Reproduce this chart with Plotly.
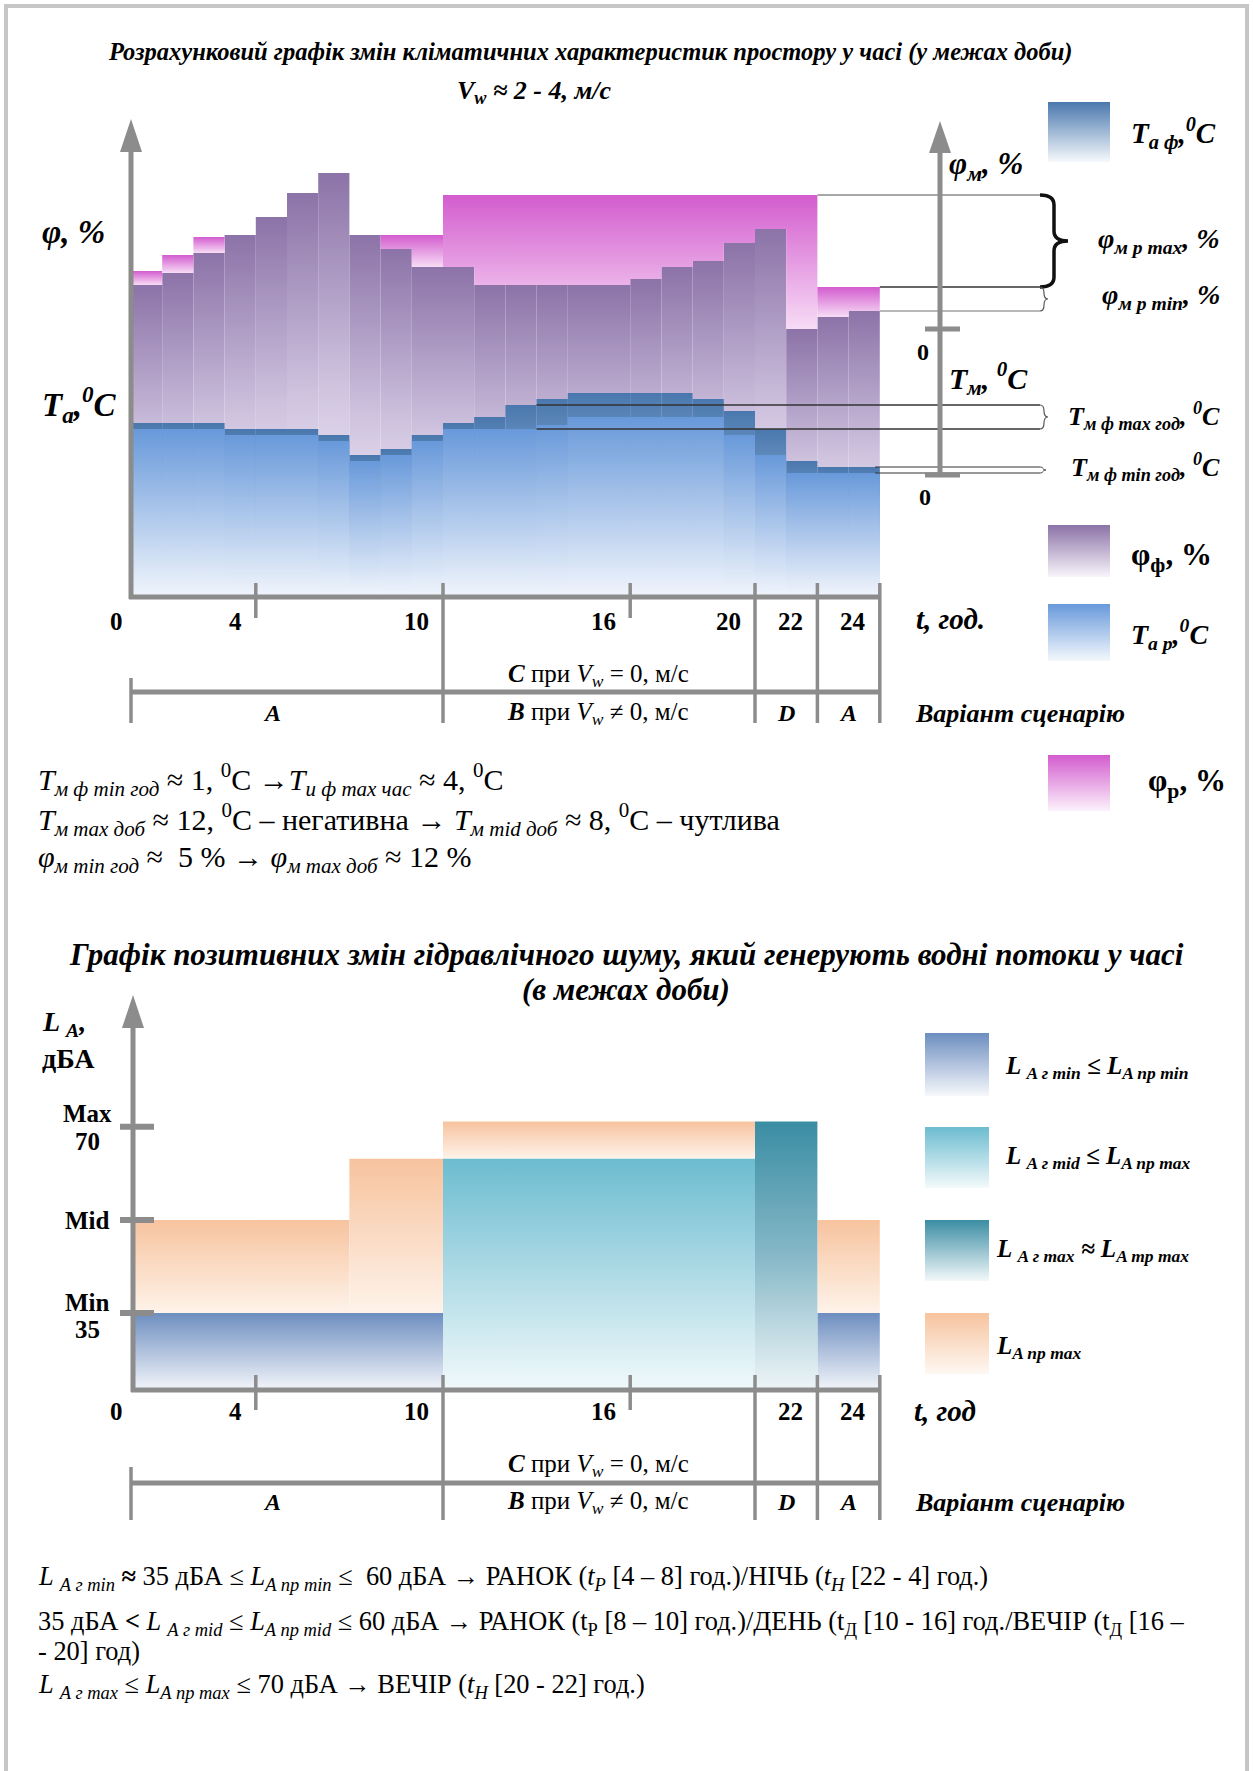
import plotly.graph_objects as go

W, H = 1253, 1771
SERIF = "Liberation Serif, Times New Roman, serif"
AX = "#8c8c8c"

# ---------------- DATA : top chart (relative level units) ----------------
hours = list(range(24))
phi_f = [78, 81, 86, 90.5, 95, 101, 106, 90.5, 87, 82.5, 82.5, 78, 78, 78, 78, 78,
         79.5, 82.5, 84, 88.5, 92, 67, 70, 71.5]
phi_r = [81.5, 85.5, 90, 90.5, 95, 101, 106, 90.5, 90.5, 90.5, 100.5, 100.5, 100.5,
         100.5, 100.5, 100.5, 100.5, 100.5, 100.5, 100.5, 100.5, 100.5, 77.5, 77.5]
T_af = [43.5, 43.5, 43.5, 42, 42, 42, 40.5, 35.5, 37, 40.5, 43.5, 45, 48, 49.5,
        51, 51, 51, 51, 49.5, 46.5, 42, 34, 32.5, 32.5]
T_ar = [42, 42, 42, 40.5, 40.5, 40.5, 39, 34, 35.5, 39, 42, 42, 42, 43,
        45, 45, 45, 45, 45, 40.5, 35.5, 31, 31, 31]
T_m_max_levels = [48, 42]          # T_м ф max год guide levels
T_m_max_from = 13                  # hour where these guides start
top_ticks = [0, 4, 10, 16, 20, 22, 24]
top_tick_labels = ["0", "4", "10", "16", "20", "22", "24"]

# ---------------- DATA : bottom chart (dBA) ----------------
L_np_max = [52.5, 52.5, 52.5, 52.5, 52.5, 52.5, 52.5, 64, 64, 64, 71, 71, 71, 71,
            71, 71, 71, 71, 71, 71, 71, 71, 52.5, 52.5]
L_g_min = [35, 35, 35, 35, 35, 35, 35, 35, 35, 35, None, None, None, None, None,
           None, None, None, None, None, None, None, 35, 35]
L_g_mid = [None, None, None, None, None, None, None, None, None, None, 64, 64, 64,
           64, 64, 64, 64, 64, 64, 64, None, None, None, None]
L_g_max = [None, None, None, None, None, None, None, None, None, None, None, None,
           None, None, None, None, None, None, None, None, 71, 71, None, None]
L_levels = [35, 52.5, 70]
bot_ticks = [0, 4, 10, 16, 20, 22, 24]
bot_label_ticks = [0, 4, 10, 16, 22, 24]
bot_tick_labels = ["0", "4", "10", "16", "22", "24"]

# ---------------- scales (pixel mapping) ----------------
X0, KX = 131.0, 31.2          # px of hour 0, px per hour
Y0T, KT = 597.0, 4.0          # top chart baseline px, px per unit
Y35, KB = 1313.0, 5.32        # bottom chart px of 35 dBA, px per dB
YB = 1390.0                   # bottom chart baseline px
L0 = 35 - (YB - Y35) / KB     # bottom chart baseline value


def hx(p):
    return (p - X0) / KX


def tx(h):
    return X0 + KX * h


def vy(p):
    return (Y0T - p) / KT


def dbv(p):
    return 35 + (Y35 - p) / KB


def px(x):
    return x / W


def py(y):
    return 1 - y / H


fig = go.Figure()


def grad_poly(xs, ys, cs, yaxis="y", start=None, stop=None):
    fg = dict(type="vertical", colorscale=cs)
    if start is not None:
        fg["start"] = start
        fg["stop"] = stop
    fig.add_trace(go.Scatter(x=xs, y=ys, mode="lines",
                             line=dict(width=0, color="rgba(0,0,0,0)"),
                             fill="toself", fillgradient=fg, hoverinfo="skip",
                             showlegend=False, yaxis=yaxis))


def step_poly(i0, i1, tops, bots):
    xs, ys = [], []
    for i in range(i0, i1):
        xs += [i, i + 1]
        ys += [tops[i], tops[i]]
    for i in range(i1 - 1, i0 - 1, -1):
        xs += [i + 1, i]
        ys += [bots[i], bots[i]]
    xs.append(xs[0])
    ys.append(ys[0])
    return xs, ys


def groups(mask, tops):
    res, i = [], 0
    while i < len(mask):
        if mask[i]:
            j = i
            while j + 1 < len(mask) and mask[j + 1] and tops[j + 1] == tops[i]:
                j += 1
            res.append((i, j + 1))
            i = j + 1
        else:
            i += 1
    return res


# colour scales
CS_PURPLE = [[0, "#ffffff"], [0.5, "#cfc3df"], [1, "#8c73a8"]]
CS_PINK = [[0, "#f7dcf5"], [1, "#d35ccf"]]
CS_DBLUE = [[0, "#f3f7fc"], [0.6, "#7ea3cf"], [1, "#4a78ae"]]
CS_LBLUE = [[0, "#f1f5fc"], [1, "#6899da"]]
CS_ORANGE = [[0, "#fef3ea"], [1, "#f7c39e"]]
CS_GMIN = [[0, "#f3f5fa"], [1, "#6d8ec0"]]
CS_GMID = [[0, "#f1f9fb"], [1, "#6cbcd0"]]
CS_GMAX = [[0, "#eef5f7"], [0.5, "#86b8c8"], [1, "#3a8da3"]]

zeros = [0] * 24
# ---- top chart bars ----
for i in hours:
    xs, ys = step_poly(i, i + 1, phi_f, zeros)
    grad_poly(xs, ys, CS_PURPLE)
for a, b in groups([phi_r[i] > phi_f[i] for i in hours], phi_r):
    xs, ys = step_poly(a, b, phi_r, phi_f)
    grad_poly(xs, ys, CS_PINK)
for i in hours:
    xs, ys = step_poly(i, i + 1, T_af, zeros)
    grad_poly(xs, ys, CS_DBLUE)
for i in hours:
    xs, ys = step_poly(i, i + 1, T_ar, zeros)
    grad_poly(xs, ys, CS_LBLUE)

# ---- bottom chart bars ----
under = []
for i in hours:
    vals = [v[i] for v in (L_g_min, L_g_mid, L_g_max) if v[i] is not None]
    under.append(max(vals) if vals else L0)
for a, b in groups([True] * 24, L_np_max):
    xs, ys = step_poly(a, b, L_np_max, under)
    grad_poly(xs, ys, CS_ORANGE, "y2")
base = [L0] * 24
for series, cs in ((L_g_min, CS_GMIN), (L_g_mid, CS_GMID), (L_g_max, CS_GMAX)):
    for a, b in groups([v is not None for v in series], series):
        xs, ys = step_poly(a, b, series, base)
        grad_poly(xs, ys, cs, "y2")


# ---- legend swatches (px boxes) ----
def swatch(x0, y0, x1, y1, cs):
    xs = [hx(x0), hx(x1), hx(x1), hx(x0), hx(x0)]
    ys = [vy(y1), vy(y1), vy(y0), vy(y0), vy(y1)]
    grad_poly(xs, ys, cs)


swatch(1048, 102, 1110, 162, [[0, "#f6f9fc"], [1, "#4a78ae"]])
swatch(1048, 525, 1110, 577, [[0, "#f8f5fa"], [1, "#8c73a8"]])
swatch(1048, 604, 1110, 661, [[0, "#f4f8fd"], [1, "#6899da"]])
swatch(1048, 755, 1110, 811, [[0, "#fcf2fb"], [1, "#d35ccf"]])
swatch(925, 1033, 989, 1096, [[0, "#f6f8fb"], [1, "#6d8ec0"]])
swatch(925, 1127, 989, 1188, [[0, "#f3fafb"], [1, "#6cbcd0"]])
swatch(925, 1220, 989, 1281, [[0, "#f3f8fa"], [1, "#3a8da3"]])
swatch(925, 1313, 989, 1374, [[0, "#fef8f3"], [1, "#f7c39e"]])

shapes = []
ann = []


def pline(x0, y0, x1, y1, w=5, color=AX):
    shapes.append(dict(type="line", xref="paper", yref="paper", x0=px(x0), y0=py(y0),
                       x1=px(x1), y1=py(y1), line=dict(color=color, width=w)))


def dline(h0, v0, h1, v1, w=1.2, color="#333333"):
    shapes.append(dict(type="line", xref="x", yref="y", x0=h0, y0=v0, x1=h1, y1=v1,
                       line=dict(color=color, width=w)))


def arrow(xc, ytip, ybase, half):
    shapes.append(dict(type="path", xref="paper", yref="paper",
                       path=f"M {px(xc-half)},{py(ybase)} L {px(xc)},{py(ytip)} L {px(xc+half)},{py(ybase)} Z",
                       fillcolor=AX, line=dict(width=0)))


def brace(xp, v_top, v_bot, wpx, lw, color="#111111"):
    x0 = hx(xp)
    w = wpx / KX
    xm = x0 + w / 2
    vm = (v_top + v_bot) / 2
    q = min(abs(v_top - v_bot) / 4, 2.5)
    path = (f"M {x0},{v_top} Q {xm},{v_top} {xm},{v_top - q} L {xm},{vm + q} "
            f"Q {xm},{vm} {x0 + w},{vm} Q {xm},{vm} {xm},{vm - q} "
            f"L {xm},{v_bot + q} Q {xm},{v_bot} {x0},{v_bot}")
    shapes.append(dict(type="path", xref="x", yref="y", path=path,
                       line=dict(color=color, width=lw)))


def txt(x, y, s, size, xa="center", ya="middle"):
    ann.append(dict(x=px(x), y=py(y), xref="paper", yref="paper", text=s, showarrow=False,
                    font=dict(family=SERIF, size=size, color="#000"), xanchor=xa, yanchor=ya))


# ---- frame ----
shapes.append(dict(type="rect", xref="paper", yref="paper", x0=px(6), y0=py(1790),
                   x1=px(1247), y1=py(6), line=dict(color="#c6c6c6", width=4)))

# ---- top chart guide lines and braces ----
XR = hx(1040)
dline(22, phi_r[21], XR, phi_r[21], 2, "#a8a8a8")
dline(24, phi_r[23], XR, phi_r[23], 1.3, "#333333")
dline(24, phi_f[23], XR, phi_f[23], 1.5, "#a0a0a0")
for lv in T_m_max_levels:
    dline(T_m_max_from, lv, XR, lv, 1.3, "#333333")
dline(23.85, T_af[23], XR, T_af[23], 1.2, "#333333")
dline(23.85, T_ar[23], XR, T_ar[23], 1.2, "#333333")
brace(1040, phi_r[21], phi_r[23], 28, 3.5)
brace(1040, phi_r[23], phi_f[23], 8, 1.2, "#555")
brace(1040, T_m_max_levels[0], T_m_max_levels[1], 8, 1.2, "#555")
brace(1040, T_af[23], T_ar[23], 6, 1.0, "#555")

# ---- top chart axes ----
pline(tx(0), Y0T + 2, tx(0), 150)
arrow(tx(0), 119, 152, 11)
pline(tx(0) - 2, Y0T, tx(24), Y0T)
for h in top_ticks:
    if h in (4, 16):
        pline(tx(h), 583, tx(h), 618, 3.5)
    elif h == 0:
        pline(tx(h), 678, tx(h), 723, 3.5)
    else:
        pline(tx(h), 583, tx(h), 723, 3.5)
pline(tx(0), 692, tx(24), 692, 5)
# right (secondary) axis
pline(940, 475, 940, 150)
arrow(940, 121, 153, 11)
pline(925, 329, 960, 329, 5)
pline(925, 475, 960, 475, 5)

for h, lab in zip(top_ticks, top_tick_labels):
    off = 6 if h == 0 else 12
    txt(tx(h) - off, 621, f"<b>{lab}</b>", 25, xa="right")

# ---- bottom chart axes ----
pline(tx(0) + 2, YB + 2, tx(0) + 2, 1026)
arrow(tx(0) + 2, 995, 1028, 11)
pline(tx(0), YB, tx(24), YB)
for h in bot_ticks:
    if h in (4, 16):
        pline(tx(h), YB - 15, tx(h), YB + 20, 3.5)
    elif h == 0:
        pline(tx(h), 1467, tx(h), 1520, 3.5)
    else:
        pline(tx(h), YB - 15, tx(h), 1520, 3.5)
pline(tx(0), 1483, tx(24), 1483, 5)
for lv in L_levels:
    yy = Y35 - KB * (lv - 35)
    pline(120, yy, 154, yy, 6)
for h, lab in zip(bot_label_ticks, bot_tick_labels):
    off = 6 if h == 0 else 12
    txt(tx(h) - off, 1411, f"<b>{lab}</b>", 25, xa="right")

# ---- texts top ----
txt(590, 52, "<b><i>Розрахунковий графік змін кліматичних характеристик простору у часі (у межах доби)</i></b>", 24.5)
txt(534, 92, "<b><i>V<sub>w</sub> ≈ 2 - 4, м/с</i></b>", 26)
txt(40, 232, "<b><i>φ, %</i></b>", 33, xa="left")
txt(40, 404, "<b><i>T<sub>a</sub>,<sup>0</sup>C</i></b>", 33, xa="left")
txt(947, 166, "<b><i>φ<sub>м</sub>, %</i></b>", 31, xa="left")
txt(947, 378, "<b><i>T<sub>м</sub>, <sup>0</sup>C</i></b>", 30, xa="left")
txt(923, 352, "<b>0</b>", 24)
txt(925, 497, "<b>0</b>", 24)
txt(914, 619, "<b><i>t, год.</i></b>", 29, xa="left")
txt(598, 676, "<b><i>C</i></b> при <i>V<sub>w</sub></i> = 0, м/с", 25)
txt(272, 713, "<b><i>A</i></b>", 24)
txt(598, 713, "<b><i>B</i></b> при <i>V<sub>w</sub></i> ≠ 0, м/с", 25)
txt(786, 713, "<b><i>D</i></b>", 24)
txt(848, 713, "<b><i>A</i></b>", 24)
txt(913, 713, "<b><i>Варіант сценарію</i></b>", 26, xa="left")

txt(1129, 133, "<b><i>T<sub>a ф</sub>,<sup>0</sup>C</i></b>", 29, xa="left")
txt(1222, 241, "<b><i>φ<sub>м р max</sub>, %</i></b>", 28, xa="right")
txt(1222, 297, "<b><i>φ<sub>м р min</sub>, %</i></b>", 28, xa="right")
txt(1222, 416, "<b><i>T<sub>м ф max год</sub>, <sup>0</sup>C</i></b>", 26, xa="right")
txt(1222, 467, "<b><i>T<sub>м ф min год</sub>, <sup>0</sup>C</i></b>", 26, xa="right")
txt(1129, 557, "<b>φ<sub>ф</sub>, %</b>", 31, xa="left")
txt(1129, 635, "<b><i>T<sub>a р</sub>,<sup>0</sup>C</i></b>", 28, xa="left")
txt(1146, 783, "<b>φ<sub>р</sub>, %</b>", 31, xa="left")

# ---- middle notes ----
txt(36, 780, "<i>T<sub>м ф min год</sub></i> ≈ 1, <sup>0</sup>C →<i>T<sub>и ф max час</sub></i> ≈ 4, <sup>0</sup>C", 30, xa="left")
txt(36, 819, "<i>T<sub>м max доб</sub></i> ≈ 12, <sup>0</sup>C – негативна → <i>T<sub>м mid доб</sub></i> ≈ 8, <sup>0</sup>C – чутлива", 30, xa="left")
txt(36, 859, "<i>φ<sub>м min год</sub></i> ≈  5 % → <i>φ<sub>м max доб</sub></i> ≈ 12 %", 30, xa="left")

# ---- bottom chart texts ----
txt(626, 955, "<b><i>Графік позитивних змін гідравлічного шуму, який генерують водні потоки у часі</i></b>", 31)
txt(626, 990, "<b><i>(в межах доби)</i></b>", 31)
txt(40, 1023, "<b><i>L <sub>A</sub>,</i></b>", 28, xa="left")
txt(40, 1058, "<b>дБА</b>", 28, xa="left")
txt(87, 1113, "<b>Max</b>", 25)
txt(87, 1141, "<b>70</b>", 25)
txt(87, 1220, "<b>Mid</b>", 25)
txt(87, 1302, "<b>Min</b>", 25)
txt(87, 1329, "<b>35</b>", 25)
txt(912, 1411, "<b><i>t, год</i></b>", 29, xa="left")
txt(598, 1465, "<b><i>C</i></b> при <i>V<sub>w</sub></i> = 0, м/с", 25)
txt(272, 1502, "<b><i>A</i></b>", 24)
txt(598, 1502, "<b><i>B</i></b> при <i>V<sub>w</sub></i> ≠ 0, м/с", 25)
txt(786, 1502, "<b><i>D</i></b>", 24)
txt(848, 1502, "<b><i>A</i></b>", 24)
txt(913, 1502, "<b><i>Варіант сценарію</i></b>", 26, xa="left")

txt(1003, 1067, "<b><i>L <sub>A г min</sub> ≤ L<sub>A пр min</sub></i></b>", 25, xa="left")
txt(1003, 1157, "<b><i>L <sub>A г mid</sub> ≤ L<sub>A пр max</sub></i></b>", 25, xa="left")
txt(994, 1250, "<b><i>L <sub>A г max</sub> ≈ L<sub>A тр max</sub></i></b>", 25, xa="left")
txt(994, 1347, "<b><i>L<sub>A пр max</sub></i></b>", 25, xa="left")

# ---- bottom notes ----
txt(36, 1578, "<i>L <sub>A г min</sub></i> <b>≈</b> 35 дБА ≤ <i>L<sub>A пр min</sub></i> ≤  60 дБА → РАНОК (<i>t<sub>P</sub></i> [4 – 8] год.)/НІЧЬ (<i>t<sub>H</sub></i> [22 - 4] год.)", 26.4, xa="left")
txt(36, 1623, "35 дБА <b>&lt;</b> <i>L <sub>A г mid</sub></i> ≤ <i>L<sub>A пр mid</sub></i> ≤ 60 дБА → РАНОК (t<sub>Р</sub> [8 – 10] год.)/ДЕНЬ (t<sub>Д</sub> [10 - 16] год./ВЕЧІР (t<sub>Д</sub> [16 –", 26.4, xa="left")
txt(36, 1651, "- 20] год)", 26.4, xa="left")
txt(36, 1686, "<i>L <sub>A г max</sub></i> ≤ <i>L<sub>A пр max</sub></i> ≤ 70 дБА → ВЕЧІР (<i>t<sub>H</sub></i> [20 - 22] год.)", 26.4, xa="left")

fig.update_layout(
    width=W, height=H, margin=dict(l=0, r=0, t=0, b=0, pad=0),
    paper_bgcolor="white", plot_bgcolor="white", showlegend=False,
    xaxis=dict(range=[hx(0), hx(W)], visible=False, fixedrange=True, domain=[0, 1]),
    yaxis=dict(range=[vy(H), vy(0)], visible=False, fixedrange=True, domain=[0, 1]),
    yaxis2=dict(range=[dbv(H), dbv(0)], visible=False, fixedrange=True,
                overlaying="y", anchor="x"),
    shapes=shapes, annotations=ann,
)
fig.write_html("out.html", config={"displayModeBar": False},
               post_script="document.body.style.margin='0px';")
